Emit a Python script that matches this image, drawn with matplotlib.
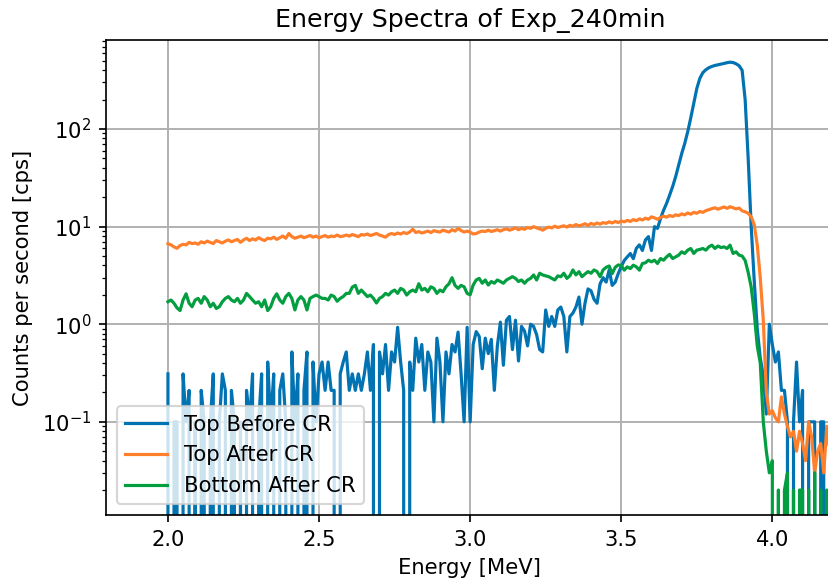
import numpy as np
import matplotlib
matplotlib.use("Agg")
import matplotlib.pyplot as plt

# energy bins [MeV], 0.01 MeV steps from 2.00 to 4.20
energy = np.linspace(2.0, 4.2, 221)

top_before = [
    # 2.00 - 2.49
    0.31, 0.0, 0.1, 0.1, 0.0, 0.31, 0.1, 0.21, 0.0, 0.1,
    0.0, 0.21, 0.1, 0.0, 0.1, 0.31, 0.0, 0.1, 0.31, 0.21,
    0.0, 0.21, 0.1, 0.0, 0.1, 0.0, 0.21, 0.1, 0.31, 0.0,
    0.1, 0.31, 0.0, 0.41, 0.1, 0.31, 0.0, 0.21, 0.31, 0.1,
    0.0, 0.52, 0.1, 0.31, 0.0, 0.21, 0.52, 0.0, 0.41, 0.1,
    # 2.50 - 2.99
    0.31, 0.41, 0.21, 0.41, 0.21, 0.21, 0.0, 0.31, 0.41, 0.52,
    0.21, 0.31, 0.21, 0.31, 0.21, 0.31, 0.52, 0.21, 0.62, 0.0,
    0.52, 0.31, 0.62, 0.21, 0.52, 0.41, 0.93, 0.41, 0.21, 0.0,
    0.41, 0.21, 0.72, 0.41, 0.62, 0.21, 0.52, 0.41, 0.1, 0.72,
    0.41, 0.1, 0.52, 0.31, 0.62, 0.52, 0.83, 0.31, 0.1, 0.93,
    # 3.00 - 3.49
    0.1, 0.62, 0.84, 0.75, 0.35, 0.72, 0.5, 0.7, 0.21, 0.6,
    1.05, 0.38, 1.1, 1.2, 0.55, 1.1, 0.42, 0.95, 0.85, 0.6,
    1.0, 0.95, 0.78, 0.55, 0.52, 1.4, 0.95, 1.2, 0.95, 1.4,
    1.5, 1.2, 0.52, 1.2, 1.3, 1.5, 1.9, 1.0, 1.64, 2.3,
    2.2, 1.8, 1.64, 2.6, 3.0, 2.7, 3.6, 2.5, 2.7, 3.3,
    # 3.50 - 3.99
    3.9, 4.5, 4.9, 5.3, 4.7, 6.0, 6.5, 5.7, 7.3, 7.9,
    5.7, 10.0, 9.6, 12.1, 14.7, 17.3, 21.0, 25.7, 32.5, 42.7,
    56.0, 71.0, 94.0, 130.0, 185.0, 260.0, 330.0, 378.0, 405.0, 425.0,
    438.0, 448.0, 455.0, 462.0, 470.0, 478.0, 484.0, 480.0, 466.0, 445.0,
    400.0, 200.0, 50.0, 10.0, 2.8, 0.9, 0.45, 0.3, 0.12, 1.0,
    # 4.00 - 4.20
    0.62, 0.41, 0.52, 0.21, 0.21, 0.1, 0.0, 0.1, 0.41, 0.1,
    0.21, 0.0, 0.1, 0.1, 0.1, 0.0, 0.1, 0.1, 0.0, 0.1,
    0.0,
]

top_after = [
    6.7, 6.5, 6.2, 6.0, 6.4, 6.6, 6.5, 6.9, 6.7, 6.8,
    6.6, 7.0, 6.8, 7.1, 6.9, 6.7, 7.2, 7.0, 6.8, 7.1,
    7.3, 7.0, 7.2, 7.4, 6.9, 7.3, 7.6, 7.2, 7.5, 7.3,
    7.7, 7.4, 7.2, 7.6, 7.5, 7.8, 7.4, 7.7, 8.0, 7.6,
    8.5, 7.9, 7.6, 7.8, 8.0, 7.7, 7.9, 8.1, 7.8, 8.0,
    7.7, 7.9, 8.1, 7.8, 8.0, 7.9, 8.2, 7.9, 8.0, 8.2,
    8.0, 8.3, 8.1, 7.9, 8.3, 8.2, 8.4, 8.1, 8.3, 8.5,
    8.2, 8.0, 7.8, 8.3, 8.5, 8.3, 8.6, 8.4, 8.7, 8.5,
    8.8, 9.4, 8.7, 8.9, 8.6, 8.8, 9.0, 8.7, 9.1, 8.9,
    8.8, 9.2, 9.0, 8.8, 9.3, 9.0, 9.6, 9.1, 8.8, 9.0,
    8.8, 8.4, 8.5, 8.8, 9.0, 8.9, 9.2, 8.9, 9.1, 9.3,
    9.0, 9.3, 9.5, 9.2, 9.4, 9.7, 9.3, 9.6, 9.4, 9.8,
    9.6, 10.0, 9.7, 9.5, 9.2, 9.6, 9.9, 9.7, 10.1, 9.8,
    10.0, 10.2, 9.9, 10.3, 10.1, 10.5, 10.2, 10.4, 10.7, 10.3,
    10.8, 10.5, 10.9, 10.6, 11.0, 10.8, 11.2, 10.9, 11.3, 11.0,
    11.4, 11.2, 11.6, 11.3, 11.8, 11.5, 12.0, 11.7, 12.2, 11.9,
    12.6, 12.3, 11.9, 12.4, 12.8, 12.5, 13.0, 12.7, 13.2, 13.0,
    13.5, 13.2, 13.8, 13.4, 14.0, 13.7, 14.3, 14.0, 14.6, 14.9,
    15.3, 15.6, 15.1, 15.5, 15.9, 15.4, 16.0, 15.6, 15.2, 15.5,
    14.5, 14.2, 13.7, 12.6, 10.5, 6.5, 3.0, 1.1, 0.2, 0.12,
    0.13, 0.11, 0.1, 0.18, 0.12, 0.09, 0.07, 0.08, 0.05, 0.08,
    0.06, 0.04, 0.1, 0.07, 0.03, 0.05, 0.06, 0.03, 0.09, 0.05,
    0.04,
]

bottom_after = [
    1.70, 1.77, 1.64, 1.47, 1.38, 1.77, 2.05, 1.64, 1.51, 1.77,
    1.84, 1.64, 1.92, 1.77, 1.51, 1.64, 1.45, 1.51, 1.70, 1.84,
    1.92, 1.77, 1.70, 1.84, 1.64, 1.77, 2.07, 1.92, 1.77, 1.64,
    1.70, 1.51, 1.77, 1.38, 1.51, 1.84, 2.05, 1.77, 1.64, 1.92,
    2.07, 1.84, 1.40, 1.77, 1.92, 1.77, 1.40, 1.84, 1.92, 1.99,
    1.92, 1.84, 1.84, 1.77, 1.99, 1.92, 1.72, 1.84, 1.92, 2.07,
    2.07, 2.40, 2.50, 2.07, 2.24, 2.07, 1.92, 1.99, 1.84, 1.65,
    1.84, 1.92, 2.07, 1.99, 2.15, 2.24, 2.07, 2.33, 2.24, 1.99,
    2.15, 2.24, 2.15, 2.60, 2.24, 2.33, 2.15, 2.42, 2.33, 2.07,
    2.24, 2.15, 2.42, 2.60, 3.00, 2.50, 2.33, 2.50, 2.42, 2.07,
    2.00, 2.52, 2.84, 2.95, 2.63, 2.84, 2.52, 2.74, 2.63, 2.84,
    2.74, 2.63, 2.84, 2.95, 3.07, 2.95, 2.74, 2.84, 2.63, 2.84,
    2.95, 3.20, 2.84, 3.33, 3.20, 3.13, 3.07, 2.95, 2.84, 3.13,
    3.07, 3.33, 2.95, 3.13, 3.60, 3.20, 3.46, 3.07, 3.27, 3.46,
    3.33, 3.60, 3.46, 3.07, 3.60, 3.83, 3.95, 3.30, 3.83, 4.05,
    4.00, 3.58, 3.87, 3.72, 4.03, 3.87, 3.58, 4.19, 4.26, 4.53,
    4.36, 4.53, 4.19, 4.71, 4.53, 4.90, 5.20, 4.71, 4.90, 5.10,
    5.52, 5.31, 5.74, 5.97, 5.31, 5.74, 5.84, 5.97, 5.74, 6.21,
    6.46, 5.97, 6.33, 6.10, 6.21, 5.97, 6.46, 5.31, 5.52, 5.10,
    5.00, 4.50, 3.40, 2.40, 1.30, 0.60, 0.40, 0.10, 0.05, 0.03,
    0.04, 0.0, 0.02, 0.0, 0.02, 0.03, 0.0, 0.02, 0.0, 0.02,
    0.02, 0.0, 0.02, 0.0, 0.03, 0.0, 0.02, 0.0, 0.02, 0.0,
    0.02,
]

labels = ["Top Before CR", "Top After CR", "Bottom After CR"]
colors = ["#0173B2", "#FF7F2A", "#029E40"]

dpi = 152
fig = plt.figure(figsize=(829 / dpi, 579 / dpi), dpi=dpi)
ax = fig.add_axes([106 / 829, 1 - 515 / 579, 728 / 829, 475 / 579])

for y, lab, c in zip([top_before, top_after, bottom_after], labels, colors):
    ax.plot(energy, y, color=c, lw=1.5, label=lab)

ax.set_yscale("log")
ax.set_xlim(1.795, 4.204)
ax.set_ylim(0.0111, 817)
ax.set_xticks([2.0, 2.5, 3.0, 3.5, 4.0])
ax.grid(True, lw=0.9)

ax.set_title("Energy Spectra of Exp_240min")
ax.set_xlabel("Energy [MeV]")
ax.set_ylabel("Counts per second [cps]")
ax.legend(loc="lower left")

fig.savefig("out.png", dpi=dpi)
